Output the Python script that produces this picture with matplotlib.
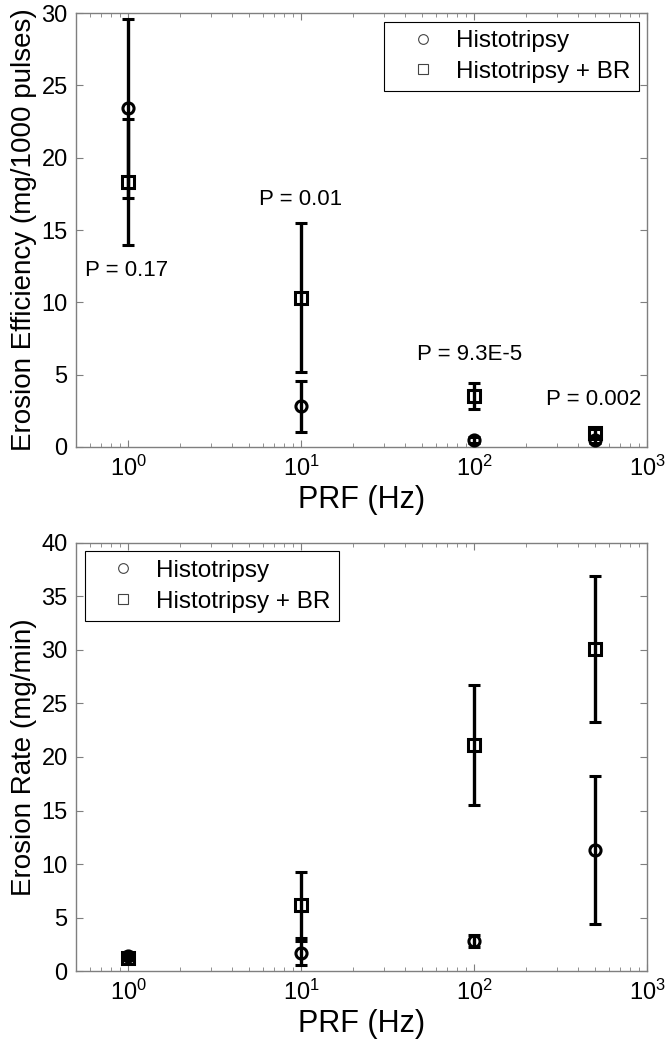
import matplotlib
matplotlib.use("Agg")
import matplotlib.pyplot as plt
from matplotlib.lines import Line2D
import numpy as np

plt.rcParams['font.family'] = ['Liberation Sans', 'DejaVu Sans']
plt.rcParams['mathtext.fontset'] = 'custom'
plt.rcParams['mathtext.rm'] = 'Liberation Sans'

# PRF values (Hz)
prf = [1, 10, 100, 500]

# Erosion efficiency (mg/1000 pulses)
eff_histo = [23.4, 2.8, 0.5, 0.5]
eff_histo_err = [6.2, 1.75, 0.2, 0.2]
eff_br = [18.3, 10.3, 3.5, 0.95]
eff_br_err = [4.35, 5.15, 0.9, 0.3]

# Erosion rate (mg/min)
rate_histo = [1.4, 1.7, 2.8, 11.3]
rate_histo_err = [0.25, 1.1, 0.6, 6.9]
rate_br = [1.2, 6.2, 21.1, 30.1]
rate_br_err = [0.2, 3.1, 5.6, 6.8]

# P-value annotations on top panel
p_labels = ["P = 0.17", "P = 0.01", "P = 9.3E-5", "P = 0.002"]
p_x = [0.565, 5.72, 46.9, 261]
p_y = [12.2, 17.1, 6.4, 3.25]

legend_labels = ["Histotripsy", "Histotripsy + BR"]

FRAME = '#7f7f7f'


def style_axes(ax, ymax, ystep, ylabel):
    ax.set_xscale('log')
    ax.set_xlim(0.5, 1000)
    ax.set_ylim(0, ymax)
    ax.set_yticks(np.arange(0, ymax + 0.1, ystep))
    ax.set_xlabel("PRF (Hz)", fontsize=22, labelpad=3)
    ax.set_ylabel(ylabel, fontsize=20, labelpad=3)
    ax.tick_params(which='both', direction='in', top=True, right=True,
                   color=FRAME, labelsize=17)
    ax.tick_params(which='major', length=5, pad=6)
    ax.tick_params(which='minor', length=3)
    for s in ax.spines.values():
        s.set_color(FRAME)
        s.set_linewidth(1.0)


def draw_series(ax, y, yerr, marker):
    ax.errorbar(prf, y, yerr=yerr, fmt=marker, mfc='none', mec='k', mew=2.2,
                ms=8, ecolor='k', elinewidth=2.4, capsize=4.5, capthick=2.4,
                zorder=3)


def add_legend(ax, loc):
    handles = [
        Line2D([], [], marker='o', ls='none', mfc='none', mec='#444444', mew=0.8, ms=7),
        Line2D([], [], marker='s', ls='none', mfc='none', mec='#444444', mew=0.8, ms=7),
    ]
    leg = ax.legend(handles, legend_labels, loc=loc, fontsize=17.5, frameon=True,
                    fancybox=False, edgecolor='k', framealpha=1,
                    labelspacing=0.35, handletextpad=0.1, borderpad=0.35,
                    borderaxespad=0.35, handlelength=2.5)
    leg.get_frame().set_linewidth(0.8)


fig = plt.figure(figsize=(6.68, 10.5), dpi=100)
ax1 = fig.add_axes([0.1138, 0.5743, 0.8548, 0.4133])
ax2 = fig.add_axes([0.1138, 0.0752, 0.8548, 0.4077])

# top panel: erosion efficiency
draw_series(ax1, eff_histo, eff_histo_err, 'o')
draw_series(ax1, eff_br, eff_br_err, 's')
for lbl, x, y in zip(p_labels, p_x, p_y):
    ax1.text(x, y, lbl, fontsize=16, ha='left', va='center')
style_axes(ax1, 30, 5, "Erosion Efficiency (mg/1000 pulses)")
add_legend(ax1, 'upper right')

# bottom panel: erosion rate
draw_series(ax2, rate_histo, rate_histo_err, 'o')
draw_series(ax2, rate_br, rate_br_err, 's')
style_axes(ax2, 40, 5, "Erosion Rate (mg/min)")
add_legend(ax2, 'upper left')

fig.savefig("out.png", dpi=100)
